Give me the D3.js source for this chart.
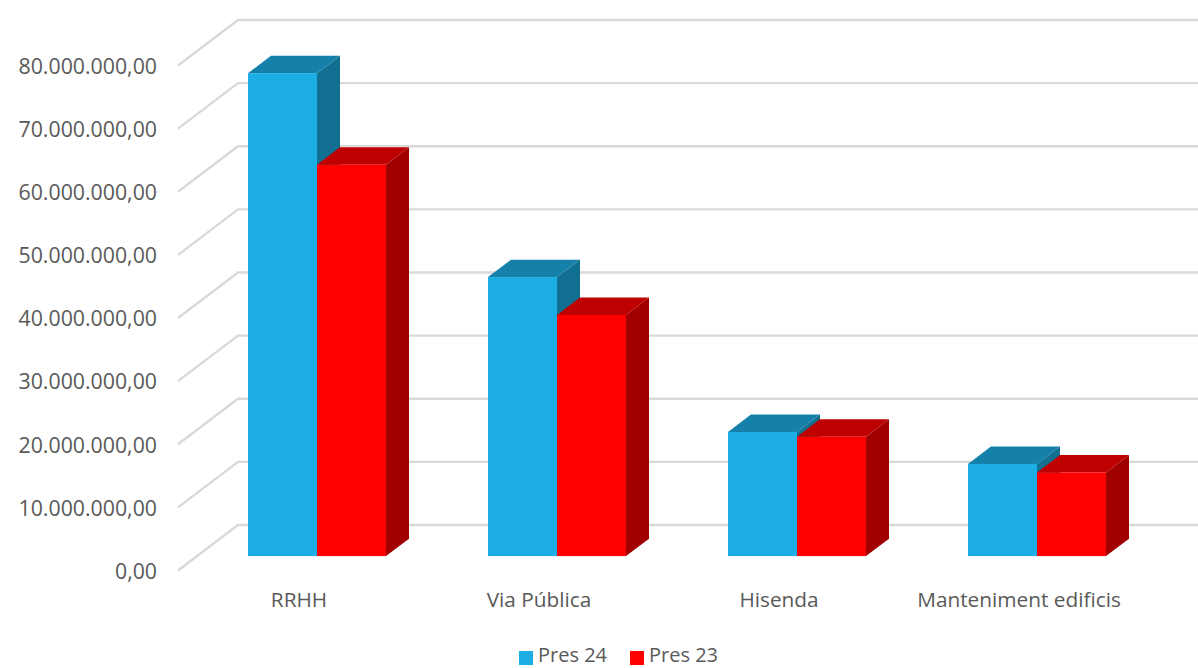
<!DOCTYPE html>
<html>
<head>
<meta charset="utf-8">
<script src="https://cdn.jsdelivr.net/npm/d3@7"></script>
<style>
  html, body { margin: 0; padding: 0; background: #fff; }
  text { font-family: "Open Sans", sans-serif; fill: #595959; }
</style>
</head>
<body>
<svg id="chart" width="1198" height="668" style="display:block"></svg>
<script>
const categories = ["RRHH", "Via Pública", "Hisenda", "Manteniment edificis"];
const seriesNames = ["Pres 24", "Pres 23"];
const pres24 = [76500000, 44200000, 19650000, 14600000];
const pres23 = [62000000, 38200000, 18900000, 13250000];
const yTicks = [0, 10000000, 20000000, 30000000, 40000000, 50000000, 60000000, 70000000, 80000000];

const colors = {
  "Pres 24": { front: "#1cade4", top: "#1580a9", side: "#116f92" },
  "Pres 23": { front: "#ff0000", top: "#bf0000", side: "#a00000" },
};

const svg = d3.select("#chart");

const euro = d3.formatLocale({ decimal: ",", thousands: ".", grouping: [3], currency: ["", ""] });

// front edge of the 3d box, depth pushes things up and to the right
const y = d3.scaleLinear().domain([0, 80000000]).range([570.5, 65.5]);
const x = d3.scaleBand().domain(categories).range([178, 1138]);
const xInner = d3.scaleBand().domain(seriesNames).range([0, 138]);
const depthX = d3.scaleLinear().domain([0, 1]).range([0, 60]);
const depthY = d3.scaleLinear().domain([0, 1]).range([0, -45.5]);

const barFront = 0.317, barBack = 0.70;

// grid: diagonal on the side wall + horizontal on the back wall
const grid = svg.append("g");
const gridLine = d3.line();
grid.selectAll("path")
  .data(yTicks)
  .join("path")
  .attr("d", (d) => gridLine([
    [x.range()[0], y(d)],
    [x.range()[0] + depthX(1), y(d) + depthY(1)],
    [x.range()[1] + depthX(1), y(d) + depthY(1)],
  ]))
  .attr("fill", "none")
  .attr("stroke", "#d9d9d9")
  .attr("stroke-width", 2.4)
  .attr("stroke-linejoin", "round");

const rows = [];
categories.forEach((c, i) => {
  rows.push({ cat: c, name: seriesNames[0], value: pres24[i] });
  rows.push({ cat: c, name: seriesNames[1], value: pres23[i] });
});

const groupWidth = xInner.range()[1];
const barLeft = (d) => x(d.cat) + (x.bandwidth() - groupWidth) / 2 + xInner(d.name) + depthX(barFront);
const barRight = (d) => barLeft(d) + xInner.bandwidth();
const dx = depthX(barBack - barFront);
const dy = depthY(barBack - barFront);
const barBase = y(0) + depthY(barFront);
const barTop = (d) => y(d.value) + depthY(barFront);

const bars = svg.append("g")
  .selectAll("g")
  .data(rows)
  .join("g");

bars.append("path")
  .attr("fill", (d) => colors[d.name].side)
  .attr("d", (d) => gridLine([
    [barRight(d), barTop(d)],
    [barRight(d) + dx, barTop(d) + dy],
    [barRight(d) + dx, barBase + dy],
    [barRight(d), barBase],
  ]) + "Z");

bars.append("path")
  .attr("fill", (d) => colors[d.name].top)
  .attr("d", (d) => gridLine([
    [barLeft(d), barTop(d)],
    [barLeft(d) + dx, barTop(d) + dy],
    [barRight(d) + dx, barTop(d) + dy],
    [barRight(d), barTop(d)],
  ]) + "Z");

bars.append("rect")
  .attr("fill", (d) => colors[d.name].front)
  .attr("x", barLeft)
  .attr("y", barTop)
  .attr("width", xInner.bandwidth())
  .attr("height", (d) => barBase - barTop(d));

// y axis labels
const yAxis = d3.axisLeft(y)
  .tickValues(yTicks)
  .tickSize(0)
  .tickPadding(0)
  .tickFormat(euro.format(",.2f"));

svg.append("g")
  .attr("transform", "translate(157,1)")
  .call(yAxis)
  .call((g) => g.select(".domain").remove())
  .selectAll("text")
  .attr("font-size", 21.3)
  .style("font-family", '"Open Sans", sans-serif')
  .style("fill", "#595959");

// category labels
const xAxis = d3.axisBottom(x).tickSize(0).tickPadding(0);
svg.append("g")
  .attr("transform", "translate(1,592)")
  .call(xAxis)
  .call((g) => g.select(".domain").remove())
  .selectAll("text")
  .attr("font-size", 20.8)
  .style("font-family", '"Open Sans", sans-serif')
  .style("fill", "#595959");

// legend
const legendX = d3.scalePoint().domain(seriesNames).range([519, 630]);
const legend = svg.append("g")
  .selectAll("g")
  .data(seriesNames)
  .join("g")
  .attr("transform", (d) => `translate(${legendX(d)},651)`);

legend.append("rect")
  .attr("width", 14)
  .attr("height", 14)
  .attr("fill", (d) => colors[d].front);

legend.append("text")
  .attr("x", 19)
  .attr("y", 11)
  .attr("font-size", 20)
  .text((d) => d);
</script>
</body>
</html>
